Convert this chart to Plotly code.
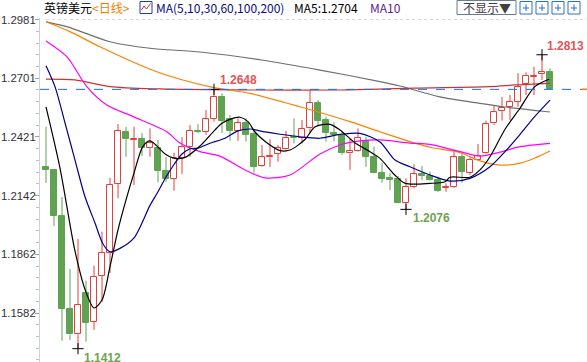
import plotly.graph_objects as go

# ---------------- data ----------------
idx = list(range(64))
opens = [1.2277, 1.2264, 1.2044, 1.1601, 1.1481, 1.1679, 1.1539, 1.1758, 1.1870, 1.2197,
         1.2445, 1.2408, 1.2410, 1.2367, 1.2367, 1.2260, 1.2221, 1.2319, 1.2375, 1.2449,
         1.2446, 1.2507, 1.2613, 1.2505, 1.2451, 1.2486, 1.2434, 1.2283, 1.2324, 1.2340,
         1.2362, 1.2420, 1.2418, 1.2462, 1.2582, 1.2502, 1.2439, 1.2431, 1.2343, 1.2356,
         1.2403, 1.2327, 1.2251, 1.2224, 1.2221, 1.2108, 1.2184, 1.2243, 1.2235, 1.2216,
         1.2179, 1.2184, 1.2324, 1.2251, 1.2311, 1.2343, 1.2486, 1.2545, 1.2565, 1.2589,
         1.2672, 1.2708, 1.2720, 1.2732]
highs = [1.2469, 1.2268, 1.2135, 1.1792, 1.1935, 1.1736, 1.1808, 1.1970, 1.2226, 1.2483,
         1.2469, 1.2470, 1.2440, 1.2462, 1.2407, 1.2326, 1.2346, 1.2420, 1.2478, 1.2482,
         1.2550, 1.2648, 1.2629, 1.2526, 1.2510, 1.2510, 1.2454, 1.2383, 1.2410, 1.2383,
         1.2450, 1.2510, 1.2502, 1.2645, 1.2597, 1.2518, 1.2490, 1.2446, 1.2415, 1.2462,
         1.2422, 1.2375, 1.2296, 1.2248, 1.2235, 1.2224, 1.2291, 1.2283, 1.2256, 1.2232,
         1.2200, 1.2362, 1.2346, 1.2327, 1.2388, 1.2499, 1.2573, 1.2612, 1.2621, 1.2725,
         1.2729, 1.2756, 1.2813, 1.2748]
lows = [1.2202, 1.1997, 1.1450, 1.1453, 1.1412, 1.1445, 1.1501, 1.1636, 1.1773, 1.2130,
        1.2327, 1.2192, 1.2330, 1.2327, 1.2205, 1.2208, 1.2165, 1.2245, 1.2327, 1.2440,
        1.2431, 1.2494, 1.2440, 1.2403, 1.2403, 1.2399, 1.2251, 1.2279, 1.2279, 1.2303,
        1.2351, 1.2391, 1.2391, 1.2439, 1.2473, 1.2399, 1.2400, 1.2335, 1.2264, 1.2351,
        1.2279, 1.2248, 1.2203, 1.2168, 1.2105, 1.2076, 1.2176, 1.2216, 1.2213, 1.2160,
        1.2160, 1.2179, 1.2203, 1.2240, 1.2308, 1.2340, 1.2478, 1.2499, 1.2502, 1.2565,
        1.2621, 1.2621, 1.2693, 1.2645]
closes = [1.2265, 1.2046, 1.1603, 1.1480, 1.1620, 1.1536, 1.1754, 1.1868, 1.2192, 1.2448,
          1.2410, 1.2412, 1.2367, 1.2391, 1.2260, 1.2221, 1.2319, 1.2372, 1.2450, 1.2444,
          1.2505, 1.2613, 1.2497, 1.2451, 1.2486, 1.2431, 1.2279, 1.2324, 1.2332, 1.2367,
          1.2418, 1.2415, 1.2458, 1.2582, 1.2497, 1.2439, 1.2431, 1.2343, 1.2354, 1.2415,
          1.2327, 1.2251, 1.2221, 1.2216, 1.2108, 1.2181, 1.2243, 1.2235, 1.2216, 1.2165,
          1.2182, 1.2324, 1.2256, 1.2311, 1.2332, 1.2481, 1.2539, 1.2561, 1.2589, 1.2658,
          1.2713, 1.2714, 1.2732, 1.2648]

ma5_x = [0, 1.75, 3.6, 4.9, 6, 7, 8, 9, 10, 11, 12.1, 13, 14.9, 16.1, 17.4, 19.25, 21.1, 22, 23,
         24.25, 25.25, 26.1, 27.4, 29.25, 30.5, 32.4, 33.6, 35.5, 36.75, 38.6, 40.5, 41.75,
         43.6, 44.9, 48, 49.9, 50.5, 53, 54.25, 55.5, 57.4, 59.25, 61.1, 62.9]
ma5_y = [1.2565, 1.2273, 1.1882, 1.1692, 1.1606, 1.1644, 1.1803, 1.1978, 1.2121, 1.2249,
         1.2375, 1.2402, 1.2340, 1.2319, 1.2324, 1.2378, 1.2454, 1.2486, 1.2505, 1.2515,
         1.2494, 1.2446, 1.2399, 1.2356, 1.2359, 1.2410, 1.2469, 1.2481, 1.2454, 1.2394,
         1.2351, 1.2319, 1.2240, 1.2200, 1.2200, 1.2208, 1.2229, 1.2229, 1.2264, 1.2327,
         1.2459, 1.2558, 1.2661, 1.2696]

ma10_x = [0, 1.125, 2.375, 3.625, 4.875, 6.125, 7.125, 8, 9.25, 11, 13, 14, 15, 16, 17, 18, 19,
          20.5, 22.375, 24, 25.5, 27.375, 29.25, 31.75, 34.25, 36.75, 39.25, 41.75, 43.625,
          45.5, 48, 50.5, 53, 55.5, 57.375, 59, 61, 63]
ma10_y = [1.2761, 1.2661, 1.2488, 1.2311, 1.2136, 1.2011, 1.1911, 1.1874, 1.1890, 1.1940,
          1.2095, 1.2160, 1.2230, 1.2290, 1.2340, 1.2365, 1.2368, 1.2391, 1.2415, 1.2450,
          1.2459, 1.2445, 1.2434, 1.2422, 1.2415, 1.2433, 1.2438, 1.2397, 1.2311, 1.2279,
          1.2240, 1.2211, 1.2224, 1.2279, 1.2351, 1.2422, 1.2515, 1.2597]

ma30_x = [0, 2.6, 5.1, 7.6, 10.9, 15.1, 16.75, 19.25, 21.75, 24.875, 27.375, 30.5, 34.25,
          36.75, 39.25, 41.75, 45.5, 48, 51.75, 54.25, 56.75, 59.25, 63]
ma30_y = [1.2879, 1.2804, 1.2661, 1.2573, 1.2518, 1.2446, 1.2392, 1.2351, 1.2330, 1.2264,
          1.2226, 1.2240, 1.2340, 1.2383, 1.2402, 1.2407, 1.2392, 1.2386, 1.2351, 1.2330,
          1.2349, 1.2375, 1.2391]

ma60_x = [0, 3, 6.75, 13, 16.75, 21, 25.5, 31.75, 38, 41.75, 45.5, 48, 51.75, 54.25, 56.75,
          59.25, 61.125, 63]
ma60_y = [1.2970, 1.2923, 1.2851, 1.2744, 1.2696, 1.2656, 1.2629, 1.2565, 1.2494, 1.2446,
          1.2399, 1.2372, 1.2346, 1.2307, 1.2287, 1.2296, 1.2321, 1.2354]

ma100_x = [0, 3.6, 8, 14.25, 25.5, 36.4, 40.5, 46.1, 55.5, 58.6, 63]
ma100_y = [1.2697, 1.2693, 1.2661, 1.2650, 1.2645, 1.2645, 1.2648, 1.2654, 1.2661, 1.2669, 1.2677]

ma200_x = [0, 2.6, 8, 13, 19.25, 26.96, 34.25, 41.75, 44.25, 49.25, 54.25, 57.375, 63]
ma200_y = [1.2970, 1.2947, 1.2875, 1.2844, 1.2826, 1.2788, 1.2740, 1.2685, 1.2664, 1.2612,
           1.2581, 1.2564, 1.2540]

tick_vals = [1.1582, 1.1862, 1.2142, 1.2421, 1.2701, 1.2981]
tick_text = ["1.1582", "1.1862", "1.2142", "1.2421", "1.2701", "1.2981"]

marked_x = [4, 21, 45, 62]
marked_y = [1.1412, 1.2648, 1.2076, 1.2813]
marked_text = ["1.1412", "1.2648", "1.2076", "1.2813"]
last_close = closes[-1]

# ---------------- styling ----------------
RED = "#e2403a"
GREEN = "#5fa352"
LABEL_RED = "#e05656"
LABEL_GREEN = "#6fa34f"

fig = go.Figure()

# wicks (drawn only outside the body)
wick = {True: ([], []), False: ([], [])}
for i, o, h, l, c in zip(idx, opens, highs, lows, closes):
    up = c >= o
    top, bot = max(o, c), min(o, c)
    xs, ys = wick[up]
    xs += [i, i, None, i, i, None]
    ys += [h, top, None, bot, l, None]
for up, col in [(True, RED), (False, GREEN)]:
    fig.add_trace(go.Scatter(x=wick[up][0], y=wick[up][1], mode="lines",
                             line=dict(color=col, width=1), hoverinfo="skip",
                             showlegend=False))

# bodies
body_base = [min(o, c) for o, c in zip(opens, closes)]
body_len = [abs(c - o) for o, c in zip(opens, closes)]
body_fill = ["white" if c >= o else GREEN for o, c in zip(opens, closes)]
body_line = [RED if c >= o else GREEN for o, c in zip(opens, closes)]
fig.add_trace(go.Bar(x=idx, y=body_len, base=body_base, width=0.72,
                     marker=dict(color=body_fill, line=dict(color=body_line, width=1)),
                     hoverinfo="skip", showlegend=False))

for xs, ys, col in [(ma200_x, ma200_y, "#6e6e6e"), (ma100_x, ma100_y, "#cc3333"),
                    (ma60_x, ma60_y, "#ff8000"), (ma30_x, ma30_y, "#ff00ff"),
                    (ma10_x, ma10_y, "#00008b"), (ma5_x, ma5_y, "#000000")]:
    fig.add_trace(go.Scatter(x=xs, y=ys, mode="lines",
                             line=dict(color=col, width=1.2, shape="spline", smoothing=0.8),
                             hoverinfo="skip", showlegend=False))

fig.add_trace(go.Scatter(x=marked_x, y=marked_y, mode="markers",
                         marker=dict(symbol="cross-thin", size=8,
                                     line=dict(color="black", width=1)),
                         hoverinfo="skip", showlegend=False))

# price labels at extremes
label_cfg = [(4, "top", LABEL_GREEN, 4), (21, "bottom", LABEL_RED, 4),
             (45, "top", LABEL_GREEN, 5), (62, "bottom", LABEL_RED, 3)]
for (xv, ya, col, xs), yv, tx in zip(label_cfg, marked_y, marked_text):
    fig.add_annotation(x=xv, y=yv, text="<b>" + tx + "</b>", showarrow=False,
                       xanchor="left", yanchor=ya, xshift=xs,
                       font=dict(family="Liberation Sans, Arial", size=12, color=col))

W, H = 587, 362
L, T = 40, 18
PW, PH = W - L, H - T


def px(xp):
    return (xp - L) / PW


def py(yp):
    return (H - yp) / PH


# header texts
hdr_font = "Noto Sans CJK SC, Microsoft YaHei, sans-serif"
for txt, x0, col in [("英镑美元", 42, "#000000"), ("<日线>", 90, "#f08000"),
                     ("MA(5,10,30,60,100,200)", 154, "#0a0a80"),
                     ("MA5:1.2704", 292, "#000000"), ("MA10", 368, "#5a1a9a"),
                     ("不显示▼", 461, "#404040")]:
    fig.add_annotation(xref="paper", yref="paper", x=px(x0), y=py(8), text=txt,
                       showarrow=False, xanchor="left", yanchor="middle",
                       font=dict(family=hdr_font, size=12, color=col))

shapes = []
# icon next to MA text
shapes.append(dict(type="rect", xref="paper", yref="paper", x0=px(140), x1=px(152),
                   y0=py(13.5), y1=py(1.5), line=dict(color="#1f3f9f", width=1)))
shapes.append(dict(type="path", xref="paper", yref="paper",
                   path=f"M {px(141.5)},{py(10)} L {px(144)},{py(6)} L {px(146.5)},{py(9)} L {px(150.5)},{py(3.5)}",
                   line=dict(color="#d03030", width=1)))
# dropdown box
shapes.append(dict(type="rect", xref="paper", yref="paper", x0=px(457), x1=px(516),
                   y0=py(14.5), y1=py(0.5), line=dict(color="#6a7a90", width=1)))
# four small blue icon boxes
for bx in [520, 536, 552, 568]:
    shapes.append(dict(type="rect", xref="paper", yref="paper", x0=px(bx), x1=px(bx + 12),
                       y0=py(14), y1=py(1.5), line=dict(color="#2a6fd0", width=1)))
    shapes.append(dict(type="line", xref="paper", yref="paper", x0=px(bx + 3), x1=px(bx + 9),
                       y0=py(8), y1=py(8), line=dict(color="#2a6fd0", width=1)))
    shapes.append(dict(type="line", xref="paper", yref="paper", x0=px(bx + 6), x1=px(bx + 6),
                       y0=py(11), y1=py(4.5), line=dict(color="#2a6fd0", width=1)))

# top dotted line and last-close dashed line
shapes.append(dict(type="line", xref="paper", yref="y", x0=px(46), x1=1,
                   y0=tick_vals[-1], y1=tick_vals[-1],
                   line=dict(color="#d5d9e0", width=1, dash="dot")))
shapes.append(dict(type="line", xref="paper", yref="y", x0=0, x1=1,
                   y0=last_close, y1=last_close,
                   line=dict(color="#1a6fe0", width=1, dash="dash")))
shapes.append(dict(type="line", xref="paper", yref="y", x0=px(582), x1=1,
                   y0=last_close, y1=last_close,
                   line=dict(color="#ff8000", width=1.5)))

y_top = 1.2981 + 1.5 / 2098
y_bot = y_top - PH / 2098

fig.update_layout(
    width=W, height=H,
    margin=dict(l=L, r=0, t=T, b=0, pad=0, autoexpand=False),
    paper_bgcolor="white", plot_bgcolor="white",
    shapes=shapes,
    showlegend=False,
    bargap=0,
    xaxis=dict(range=[-0.75, 67.625], visible=False, fixedrange=True, automargin=False),
    yaxis=dict(range=[y_bot, y_top], tickmode="array", tickvals=tick_vals, ticktext=tick_text,
               automargin=False,
               showgrid=False, zeroline=False, showline=True, linecolor="#cdd3de", linewidth=1,
               ticks="outside", ticklen=4, tickcolor="#9aa3b5", ticklabelstandoff=-3,
               tickfont=dict(family="Liberation Sans, Arial", size=11.4, color="#333333"),
               minor=dict(tickmode="linear", tick0=1.1582, dtick=0.005595, ticks="outside",
                          ticklen=3, tickcolor="#b8bfcc"),
               fixedrange=True),
)

fig.write_html("out.html", config={"displayModeBar": False},
               post_script="document.body.style.margin='0px';document.body.style.overflow='hidden';")
